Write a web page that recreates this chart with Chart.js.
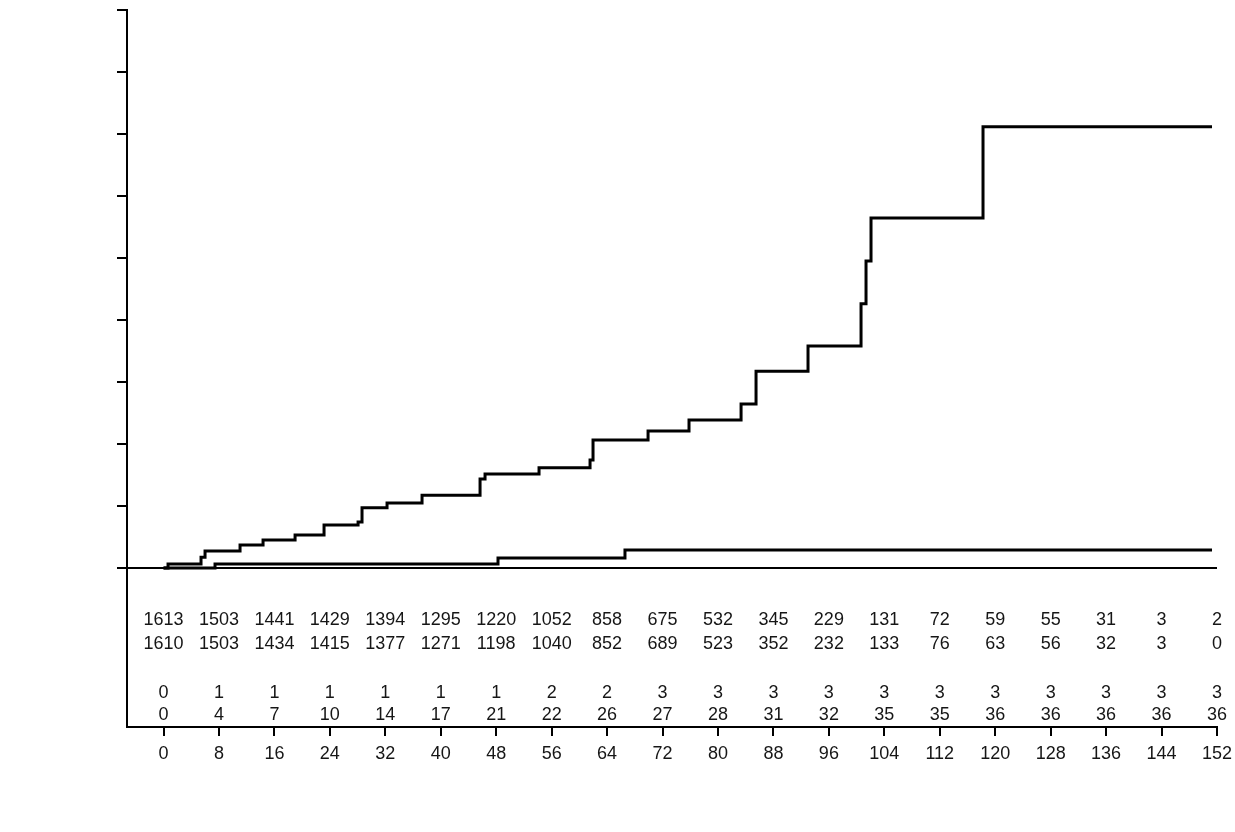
<!DOCTYPE html>
<html>
<head>
<meta charset="utf-8">
<script src="https://cdn.jsdelivr.net/npm/chart.js@4.4.1/dist/chart.umd.min.js"></script>
<style>
  html, body { margin: 0; padding: 0; background: #fff; }
  #chart { display: block; }
</style>
</head>
<body>
<canvas id="chart" width="1235" height="832"></canvas>
<script>
// ---- data ----
const xTicks = [0, 8, 16, 24, 32, 40, 48, 56, 64, 72, 80, 88, 96, 104, 112, 120, 128, 136, 144, 152];
const yTicks = [0, 0.02, 0.04, 0.06, 0.08, 0.10, 0.12, 0.14, 0.16, 0.18];

// upper step curve: time of each step and value after it
const upperTime = [0, 0.65, 5.41, 5.99, 11.04, 14.36, 18.98, 23.16, 28.07, 28.64, 32.25, 37.30, 45.67, 46.39,
  54.18, 61.54, 61.97, 69.91, 75.82, 83.33, 85.49, 92.99, 100.64, 101.36, 102.08, 118.24, 151.28];
const upperInc = [0, 0.0013, 0.0035, 0.0055, 0.0074, 0.0090, 0.0106, 0.0139, 0.0148, 0.0194, 0.0210, 0.0235, 0.0287, 0.0303,
  0.0323, 0.0348, 0.0413, 0.0442, 0.0477, 0.0529, 0.0635, 0.0716, 0.0852, 0.0990, 0.1129, 0.1423, 0.1423];

// lower step curve
const lowerTime = [0, 7.43, 48.26, 66.58, 151.28];
const lowerInc = [0, 0.0013, 0.0032, 0.0058, 0.0058];

// numbers under the plot, one value per x tick
const riskRow1 = [1613, 1503, 1441, 1429, 1394, 1295, 1220, 1052, 858, 675, 532, 345, 229, 131, 72, 59, 55, 31, 3, 2];
const riskRow2 = [1610, 1503, 1434, 1415, 1377, 1271, 1198, 1040, 852, 689, 523, 352, 232, 133, 76, 63, 56, 32, 3, 0];
const eventRow1 = [0, 1, 1, 1, 1, 1, 1, 2, 2, 3, 3, 3, 3, 3, 3, 3, 3, 3, 3, 3];
const eventRow2 = [0, 4, 7, 10, 14, 17, 21, 22, 26, 27, 28, 31, 32, 35, 35, 36, 36, 36, 36, 36];

// rows drawn below the zero line, at these y values of the scale
const tableRows = [
  { values: riskRow1, level: -0.0168 },
  { values: riskRow2, level: -0.0245 },
  { values: eventRow1, level: -0.0403 },
  { values: eventRow2, level: -0.0474 }
];

const toPoints = (xs, ys) => xs.map((x, i) => ({ x, y: ys[i] }));

// draws the number table through the chart scales
const tablePlugin = {
  id: 'riskTable',
  afterDraw(chart) {
    const { ctx, scales: { x, y } } = chart;
    ctx.save();
    ctx.fillStyle = '#161616';
    ctx.font = '18px "Liberation Sans", Arial, sans-serif';
    ctx.textAlign = 'center';
    ctx.textBaseline = 'middle';
    tableRows.forEach(row => {
      const py = y.getPixelForValue(row.level);
      row.values.forEach((v, i) => {
        ctx.fillText(String(v), x.getPixelForValue(xTicks[i]), py);
      });
    });
    ctx.restore();
  }
};

new Chart(document.getElementById('chart'), {
  type: 'line',
  data: {
    datasets: [
      {
        data: toPoints(upperTime, upperInc),
        borderColor: '#000',
        borderWidth: 3,
        pointRadius: 0,
        stepped: true,
        fill: false
      },
      {
        data: toPoints(lowerTime, lowerInc),
        borderColor: '#000',
        borderWidth: 3,
        pointRadius: 0,
        stepped: true,
        fill: false
      }
    ]
  },
  options: {
    responsive: false,
    animation: false,
    devicePixelRatio: 1,
    layout: { padding: { top: 10, right: 18, bottom: 0, left: 0 } },
    plugins: { legend: { display: false }, tooltip: { enabled: false } },
    scales: {
      x: {
        type: 'linear',
        min: -5.27,
        max: 152,
        afterBuildTicks: s => { s.ticks = xTicks.map(v => ({ value: v })); },
        afterFit: s => { s.height = 105; s.paddingLeft = 0; s.paddingRight = 0; },
        border: { color: '#000', width: 2 },
        grid: { drawOnChartArea: false, color: '#000', lineWidth: 2, tickLength: 9 },
        ticks: {
          color: '#161616',
          padding: 7,
          maxRotation: 0,
          autoSkip: false,
          font: { family: '"Liberation Sans", Arial, sans-serif', size: 18 }
        }
      },
      y: {
        min: -0.0513,
        max: 0.18,
        afterBuildTicks: s => { s.ticks = yTicks.map(v => ({ value: v })); },
        afterFit: s => { s.width = 127; },
        border: { color: '#000', width: 2 },
        grid: {
          drawOnChartArea: true,
          color: c => (c.tick && c.tick.value === 0 ? '#000' : 'rgba(0,0,0,0)'),
          tickColor: '#000',
          lineWidth: 2,
          tickLength: 10
        },
        ticks: { display: false }
      }
    }
  },
  plugins: [tablePlugin]
});
</script>
</body>
</html>
